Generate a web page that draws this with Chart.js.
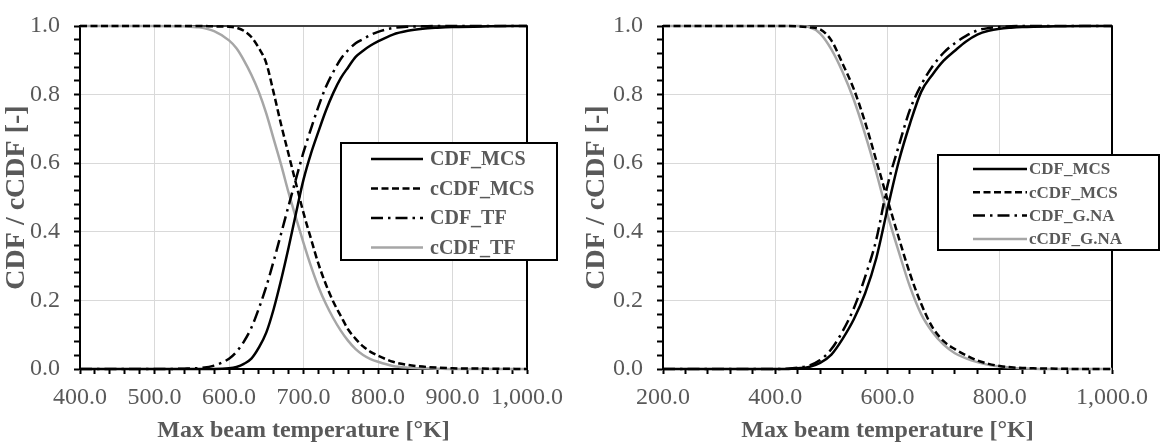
<!DOCTYPE html>
<html>
<head>
<meta charset="utf-8">
<script src="https://cdn.jsdelivr.net/npm/chart.js@4/dist/chart.umd.min.js"></script>
<style>
  html, body { margin: 0; padding: 0; background: #fff; }
  .panel { position: absolute; top: 0; width: 580px; height: 446px; }
  #panelA { left: 0; }
  #panelB { left: 580px; }
</style>
</head>
<body>
<div class="panel" id="panelA"><canvas id="chartA" width="580" height="446"></canvas></div>
<div class="panel" id="panelB"><canvas id="chartB" width="580" height="446"></canvas></div>
<script>
// Left panel: Monte Carlo vs. TF
const tempA = [400, 500, 540, 560, 580, 600, 610, 620, 630, 640, 650, 660, 670, 680, 690, 700,
               710, 720, 730, 740, 750, 760, 770, 780, 790, 800, 820, 840, 860, 880, 900, 950, 1000];
const cdfMcsA = [0, 0, 0, 0, 0, 0.002, 0.006, 0.015, 0.03, 0.062, 0.106, 0.175, 0.26, 0.354, 0.455, 0.552,
                 0.628, 0.692, 0.753, 0.805, 0.848, 0.88, 0.91, 0.928, 0.943, 0.955, 0.975, 0.986, 0.992, 0.995, 0.997, 0.999, 1];
const ccdfMcsA = [1, 1, 1, 1, 0.999, 0.998, 0.995, 0.986, 0.968, 0.936, 0.892, 0.805, 0.712, 0.626, 0.54, 0.455,
                  0.38, 0.307, 0.247, 0.196, 0.155, 0.115, 0.088, 0.066, 0.05, 0.039, 0.021, 0.012, 0.007, 0.004, 0.002, 0.001, 0];
const cdfTfA = [0, 0, 0.001, 0.003, 0.01, 0.03, 0.05, 0.08, 0.12, 0.176, 0.24, 0.315, 0.395, 0.476, 0.555, 0.632,
                0.7, 0.765, 0.822, 0.866, 0.904, 0.93, 0.95, 0.962, 0.974, 0.983, 0.994, 0.998, 0.999, 1, 1, 1, 1];
const ccdfTfA = [1, 1, 0.999, 0.996, 0.985, 0.958, 0.935, 0.9, 0.858, 0.808, 0.745, 0.67, 0.595, 0.514, 0.44, 0.368,
                 0.3, 0.24, 0.19, 0.148, 0.112, 0.082, 0.058, 0.041, 0.029, 0.021, 0.009, 0.004, 0.002, 0.001, 0, 0, 0];
const namesA = ['CDF_MCS', 'cCDF_MCS', 'CDF_TF', 'cCDF_TF'];

// Right panel: Monte Carlo vs. G.NA
const tempB = [200, 400, 420, 440, 460, 480, 500, 520, 540, 560, 580, 600, 620, 640, 660, 680, 700,
               720, 740, 760, 780, 800, 820, 840, 860, 900, 950, 1000];
const cdfMcsB = [0, 0, 0, 0.002, 0.006, 0.018, 0.042, 0.088, 0.145, 0.22, 0.323, 0.467, 0.605, 0.715, 0.808, 0.858, 0.899,
                 0.928, 0.955, 0.975, 0.986, 0.992, 0.995, 0.997, 0.998, 0.999, 1, 1];
const ccdfMcsB = [1, 1, 1, 0.999, 0.996, 0.99, 0.958, 0.89, 0.816, 0.72, 0.608, 0.494, 0.383, 0.278, 0.19, 0.122, 0.081,
                  0.058, 0.04, 0.025, 0.015, 0.009, 0.005, 0.003, 0.002, 0.001, 0, 0];
const cdfGnaB = [0, 0, 0.001, 0.004, 0.01, 0.026, 0.058, 0.11, 0.177, 0.268, 0.377, 0.535, 0.65, 0.756, 0.828, 0.882, 0.922,
                 0.95, 0.971, 0.987, 0.994, 0.997, 0.999, 1, 1, 1, 1, 1];
const ccdfGnaB = [1, 1, 1, 1, 0.997, 0.978, 0.932, 0.866, 0.785, 0.685, 0.573, 0.45, 0.342, 0.24, 0.16, 0.108, 0.071,
                  0.046, 0.031, 0.02, 0.012, 0.007, 0.004, 0.002, 0.001, 0, 0, 0];
const namesB = ['CDF_MCS', 'cCDF_MCS', 'CDF_G.NA', 'cCDF_G.NA'];

const yTickStep = 0.04;
const yMajorStep = 0.2;

Chart.defaults.font.family = "'Liberation Serif', 'Times New Roman', serif";
Chart.defaults.color = '#595959';

const TEXT = '#595959';
const GRID = '#d9d9d9';

const lineStyles = [
  { borderColor: '#000000', borderDash: [] },
  { borderColor: '#000000', borderDash: [7, 3.5] },
  { borderColor: '#000000', borderDash: [12, 5, 2.5, 5] },
  { borderColor: '#a6a6a6', borderDash: [] }
];

function isMultiple(v, step) {
  const r = v / step;
  return Math.abs(r - Math.round(r)) < 1e-6;
}

function points(xs, ys) {
  return xs.map((x, i) => ({ x: x, y: ys[i] }));
}

function makeDatasets(xs, series, names) {
  return series.map((ys, i) => ({
    label: names[i],
    data: points(xs, ys),
    borderColor: lineStyles[i].borderColor,
    borderDash: lineStyles[i].borderDash,
    borderWidth: 2.5,
    pointRadius: 0,
    cubicInterpolationMode: 'monotone',
    fill: false,
    clip: 4
  }));
}

// top and right edges of the plot area
const framePlugin = {
  id: 'frame',
  beforeDatasetsDraw(chart) {
    const { ctx, chartArea: a } = chart;
    ctx.save();
    ctx.lineWidth = 2;
    ctx.strokeStyle = '#404040';
    ctx.beginPath();
    ctx.moveTo(a.left, a.top);
    ctx.lineTo(a.right + 1, a.top);
    ctx.stroke();
    ctx.strokeStyle = '#000000';
    ctx.beginPath();
    ctx.moveTo(a.right, a.top);
    ctx.lineTo(a.right, a.bottom);
    ctx.stroke();
    ctx.restore();
  }
};

// boxed legend with line samples, drawn on top of everything
const boxLegend = {
  id: 'boxLegend',
  afterDraw(chart, args, opts) {
    const ctx = chart.ctx;
    ctx.save();
    ctx.fillStyle = '#ffffff';
    ctx.fillRect(opts.x, opts.y, opts.w, opts.h);
    ctx.lineWidth = 2;
    ctx.strokeStyle = '#000000';
    ctx.strokeRect(opts.x, opts.y, opts.w, opts.h);
    ctx.font = 'bold ' + opts.fontSize + "px 'Liberation Serif', 'Times New Roman', serif";
    ctx.textBaseline = 'middle';
    ctx.textAlign = 'left';
    chart.data.datasets.forEach((ds, i) => {
      const y = opts.rowY + i * opts.rowGap;
      ctx.strokeStyle = ds.borderColor;
      ctx.lineWidth = ds.borderWidth;
      ctx.setLineDash(ds.borderDash);
      ctx.beginPath();
      ctx.moveTo(opts.lineX0, y);
      ctx.lineTo(opts.lineX1, y);
      ctx.stroke();
      ctx.setLineDash([]);
      ctx.fillStyle = TEXT;
      ctx.fillText(ds.label, opts.textX, y + 1);
    });
    ctx.restore();
  }
};

function makeChart(id, xs, series, names, xr, legendOpts) {
  return new Chart(document.getElementById(id), {
    type: 'line',
    data: { datasets: makeDatasets(xs, series, names) },
    plugins: [framePlugin, boxLegend],
    options: {
      responsive: false,
      devicePixelRatio: 1,
      animation: false,
      layout: { padding: { left: 0, top: 14, right: xr.padRight, bottom: 0 } },
      plugins: {
        legend: { display: false },
        tooltip: { enabled: false },
        boxLegend: legendOpts
      },
      scales: {
        x: {
          type: 'linear',
          min: xr.min,
          max: xr.max,
          afterFit(scale) { scale.height = 77; },
          border: { display: true, color: '#000000', width: 2 },
          grid: {
            color: c => isMultiple(c.tick.value, xr.major) ? GRID : 'rgba(0,0,0,0)',
            lineWidth: 1,
            tickColor: '#000000',
            tickWidth: 2,
            tickLength: 5,
            drawTicks: true
          },
          ticks: {
            stepSize: xr.minor,
            maxTicksLimit: 100,
            autoSkip: false,
            maxRotation: 0,
            padding: 12,
            color: TEXT,
            font: { size: 24, lineHeight: 1 },
            callback: v => isMultiple(v, xr.major)
              ? v.toLocaleString('en-US', { minimumFractionDigits: 1, maximumFractionDigits: 1 })
              : ''
          },
          title: {
            display: true,
            text: 'Max beam temperature [°K]',
            color: TEXT,
            font: { size: 24, weight: 'bold', lineHeight: 1.2 },
            padding: { top: 0, bottom: 1 }
          }
        },
        y: {
          min: 0,
          max: 1,
          afterFit(scale) { scale.width = xr.yWidth; },
          border: { display: true, color: '#000000', width: 2 },
          grid: {
            color: c => isMultiple(c.tick.value, yMajorStep) ? GRID : 'rgba(0,0,0,0)',
            lineWidth: 1,
            tickColor: '#000000',
            tickWidth: 2,
            tickLength: 6,
            drawTicks: true
          },
          ticks: {
            stepSize: yTickStep,
            maxTicksLimit: 100,
            autoSkip: false,
            padding: 14,
            color: TEXT,
            font: { size: 24, lineHeight: 1 },
            callback: v => isMultiple(v, yMajorStep) ? v.toFixed(1) : ''
          },
          title: {
            display: true,
            text: 'CDF / cCDF [-]',
            color: TEXT,
            font: { size: 28, weight: 'bold', lineHeight: 1.2 },
            padding: { top: 0, bottom: 0 }
          }
        }
      }
    }
  });
}

makeChart('chartA', tempA, [cdfMcsA, ccdfMcsA, cdfTfA, ccdfTfA], namesA,
  { min: 400, max: 1000, minor: 20, major: 100, padRight: 53, yWidth: 80 },
  { x: 341, y: 143, w: 216, h: 117, rowY: 159, rowGap: 29.5,
    lineX0: 371, lineX1: 423, textX: 430, fontSize: 20 });

makeChart('chartB', tempB, [cdfMcsB, ccdfMcsB, cdfGnaB, ccdfGnaB], namesB,
  { min: 200, max: 1000, minor: 40, major: 200, padRight: 43, yWidth: 83 },
  { x: 358, y: 155, w: 221, h: 95, rowY: 169, rowGap: 23.3,
    lineX0: 393, lineX1: 447, textX: 449, fontSize: 17 });
</script>
</body>
</html>
